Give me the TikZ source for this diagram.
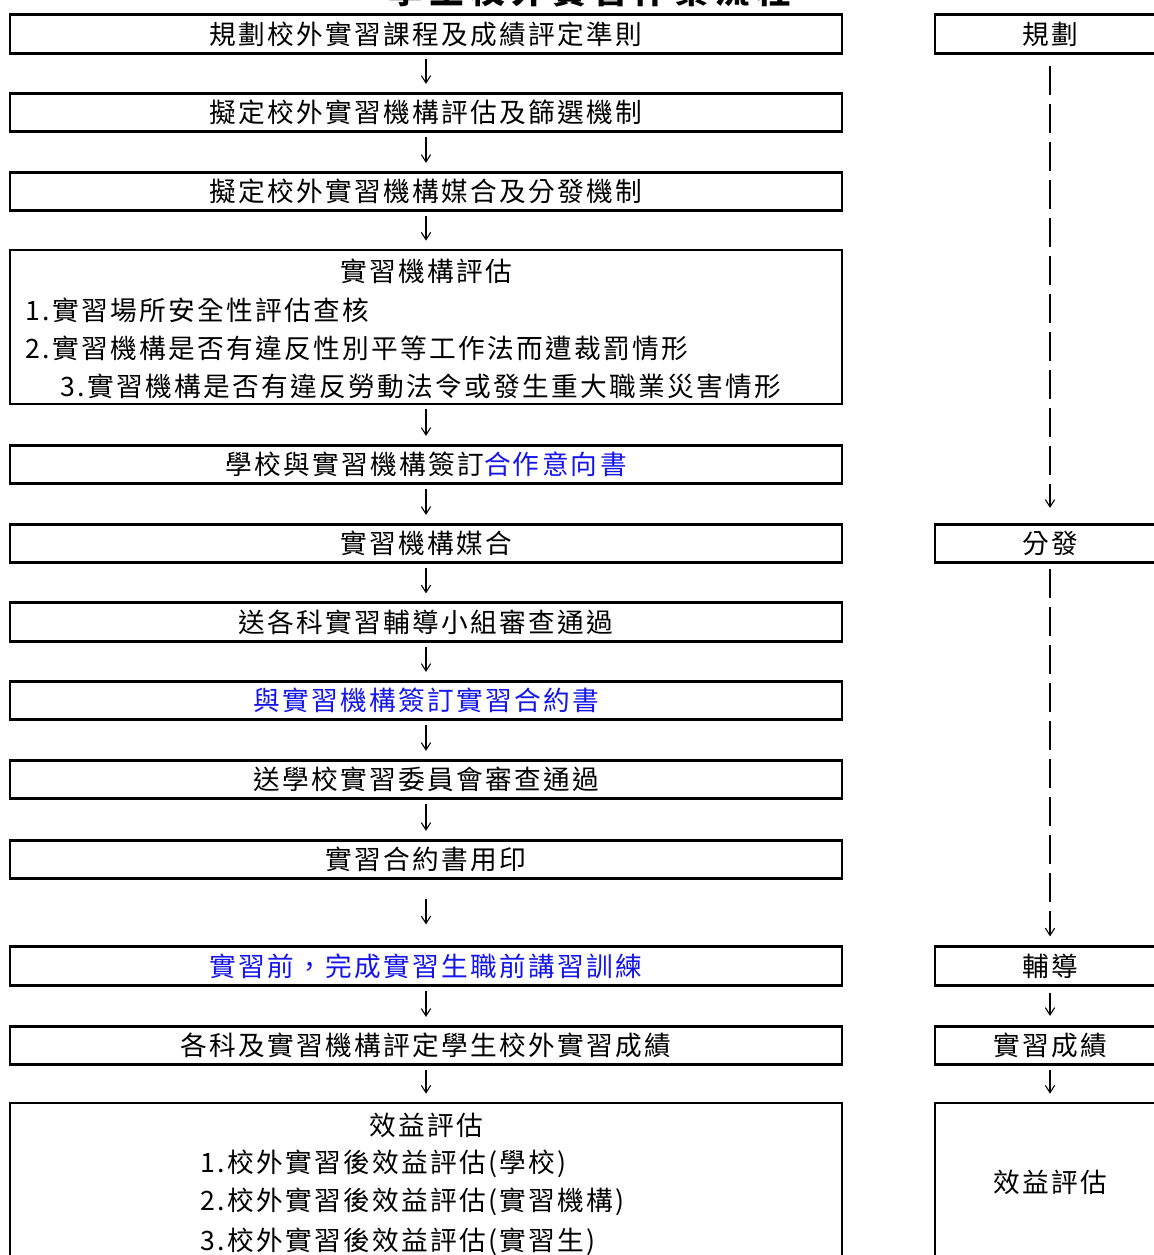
\documentclass[tikz,border=0pt]{standalone}
\usepackage{fontspec}
\setmainfont{Noto Sans CJK TC}[LetterSpace=8.75]
\newfontfamily\titlefont{Noto Sans CJK TC}[LetterSpace=18]
\usetikzlibrary{arrows.meta}
\definecolor{myblue}{RGB}{20,20,235}
\tikzset{
  txt/.style={inner sep=0pt, font=\fontsize{20}{24}\selectfont, text height=17.6pt, text depth=2.4pt},
  lbox/.style={txt, draw, line width=2pt, minimum width=624pt, minimum height=28.9pt},
  rbox/.style={txt, draw, line width=2pt, minimum width=172.5pt, minimum height=28.9pt},
  arr/.style={-{Straight Barb[length=5.5pt,width=7pt]}, line width=0.8pt, shorten <=3pt, shorten >=6pt},
  darr/.style={arr, dash pattern=on 21.75pt off 6.75pt},
}
\begin{document}
\begin{tikzpicture}[x=0.75pt,y=-0.75pt]
\useasboundingbox (0,0) rectangle (1153,1255);
\fill[white] (0,0) rectangle (1153,1255);
% title (mostly cut off at the top, as in the reference)
\node[inner sep=0pt, anchor=base, font=\titlefont\bfseries\fontsize{26}{30}\selectfont] (title) at (590,3.5) {學生校外實習作業流程};
% left column
\node[lbox] (b1) at (426,34) {規劃校外實習課程及成績評定準則};
\node[lbox] (b2) at (426,112.5) {擬定校外實習機構評估及篩選機制};
\node[lbox] (b3) at (426,191.5) {擬定校外實習機構媒合及分發機制};
\node[lbox, minimum height=115.5pt] (b4) at (426,327) {};
\node[txt] (b4t) at (426,271) {實習機構評估};
\node[txt, anchor=west] (b4a) at (25,310) {1.實習場所安全性評估查核};
\node[txt, anchor=west] (b4b) at (25,348) {2.實習機構是否有違反性別平等工作法而遭裁罰情形};
\node[txt, anchor=west] (b4c) at (60,386) {3.實習機構是否有違反勞動法令或發生重大職業災害情形};
\node[lbox] (b5) at (426,464.5) {學校與實習機構簽訂\textcolor{myblue}{合作意向書}};
\node[lbox] (b6) at (426,543.5) {實習機構媒合};
\node[lbox] (b7) at (426,622) {送各科實習輔導小組審查通過};
\node[lbox, text=myblue] (b8) at (426,700.5) {與實習機構簽訂實習合約書};
\node[lbox] (b9) at (426,779.5) {送學校實習委員會審查通過};
\node[lbox] (b10) at (426,859.5) {實習合約書用印};
\node[lbox, text=myblue] (b11) at (426,966) {實習前，完成實習生職前講習訓練};
\node[lbox] (b12) at (426,1045.5) {各科及實習機構評定學生校外實習成績};
\node[lbox, minimum height=125.25pt] (b13) at (426,1186.5) {};
\node[txt] (b13t) at (426,1125) {效益評估};
\node[txt, anchor=west] (b13a) at (200,1162) {1.校外實習後效益評估(學校)};
\node[txt, anchor=west] (b13b) at (200,1200) {2.校外實習後效益評估(實習機構)};
\node[txt, anchor=west] (b13c) at (200,1240) {3.校外實習後效益評估(實習生)};
% left arrows
\draw[arr] (b1) -- (b2);
\draw[arr] (b2) -- (b3);
\draw[arr] (b3) -- (b4);
\draw[arr] (b4) -- (b5);
\draw[arr] (b5) -- (b6);
\draw[arr] (b6) -- (b7);
\draw[arr] (b7) -- (b8);
\draw[arr] (b8) -- (b9);
\draw[arr] (b9) -- (b10);
\draw[arr, shorten <=14.25pt, shorten >=15.75pt] (b10) -- (b11);
\draw[arr] (b11) -- (b12);
\draw[arr] (b12) -- (b13);
% right column
\node[rbox] (r1) at (1050,34) {規劃};
\node[rbox] (r2) at (1050,543.5) {分發};
\node[rbox] (r3) at (1050,966) {輔導};
\node[rbox] (r4) at (1050,1045.5) {實習成績};
\node[rbox, minimum height=125.25pt] (r5) at (1050,1186.5) {};
\node[txt] (r5t) at (1050,1182) {效益評估};
\draw[darr, shorten <=8.25pt, shorten >=11.25pt] (r1) -- (r2);
\draw[darr, shorten <=3.75pt, shorten >=6.75pt] (r2) -- (r3);
\draw[arr, shorten <=4.5pt, shorten >=6.75pt] (r3) -- (r4);
\draw[arr] (r4) -- (r5);
\end{tikzpicture}
\end{document}
